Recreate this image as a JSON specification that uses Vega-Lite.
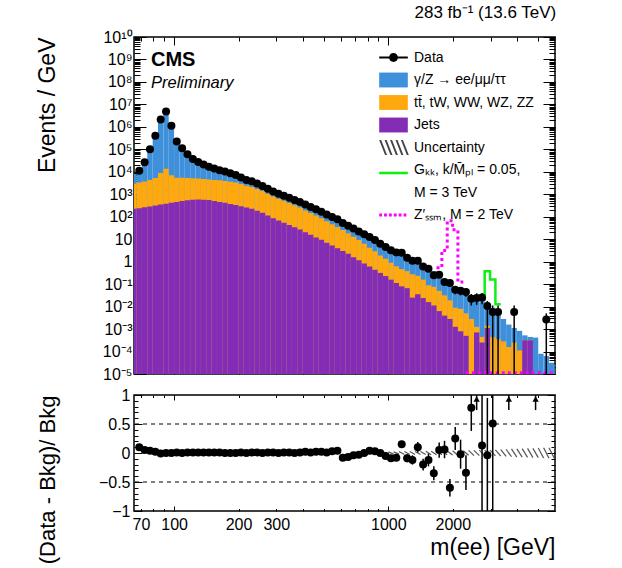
{
"$schema": "https://vega.github.io/schema/vega-lite/v6.json",
"padding": {"left": 35, "top": 4, "right": 5, "bottom": 5},
"background": "white",
"bounds": "flush",
"title": {"text": "283 fb⁻¹ (13.6 TeV)", "anchor": "end", "fontSize": 17, "fontWeight": "normal", "font": "Liberation Sans", "offset": 6, "color": "black"},
"datasets": {
"bins": [
{"lo":63.10,"hi":66.83,"c":64.94,"T":7943,"O":2951,"P":223.9},
{"lo":66.83,"hi":70.79,"c":68.78,"T":1.047e4,"O":3311,"P":239.9,"D":1.122e4,"r":0.10},
{"lo":70.79,"hi":74.99,"c":72.86,"T":2.512e4,"O":3715,"P":263.0,"D":2.630e4,"r":0.05},
{"lo":74.99,"hi":79.43,"c":77.18,"T":9.772e4,"O":4266,"P":288.4,"D":1.0e5,"r":0.04},
{"lo":79.43,"hi":84.14,"c":81.75,"T":3.981e5,"O":5248,"P":316.2,"D":4.07e5,"r":0.02},
{"lo":84.14,"hi":89.13,"c":86.60,"T":2.138e6,"O":8913,"P":346.7,"D":2.12e6,"r":-0.01},
{"lo":89.13,"hi":94.41,"c":91.73,"T":4.786e6,"O":1.380e4,"P":380.2,"D":4.786e6,"r":0.0},
{"lo":94.41,"hi":100.0,"c":97.17,"T":1.122e6,"O":7079,"P":416.9,"D":1.122e6,"r":0.0},
{"lo":100.0,"hi":105.9,"c":102.9,"T":2.239e5,"O":5495,"P":457.1,"D":2.26e5,"r":0.01},
{"lo":105.9,"hi":112.2,"c":109.0,"T":1.122e5,"O":5370,"P":501.2,"D":1.122e5,"r":0.0},
{"lo":112.2,"hi":118.9,"c":115.5,"T":6.026e4,"O":5248,"P":537.0,"D":6.09e4,"r":0.01},
{"lo":118.9,"hi":125.9,"c":122.4,"T":3.715e4,"O":5129,"P":575.4,"D":3.75e4,"r":0.01},
{"lo":125.9,"hi":133.4,"c":129.6,"T":2.692e4,"O":5012,"P":588.8,"D":2.72e4,"r":0.01},
{"lo":133.4,"hi":141.3,"c":137.3,"T":2.089e4,"O":4786,"P":575.4,"D":2.11e4,"r":0.01},
{"lo":141.3,"hi":149.6,"c":145.4,"T":1.660e4,"O":4571,"P":549.5,"D":1.68e4,"r":0.01},
{"lo":149.6,"hi":158.5,"c":154.0,"T":1.380e4,"O":4365,"P":501.2,"D":1.39e4,"r":0.01},
{"lo":158.5,"hi":167.9,"c":163.1,"T":1.148e4,"O":4169,"P":457.1,"D":1.16e4,"r":0.01},
{"lo":167.9,"hi":177.8,"c":172.8,"T":1.023e4,"O":3890,"P":416.9,"D":1.023e4,"r":0.0},
{"lo":177.8,"hi":188.4,"c":183.0,"T":8511,"O":3631,"P":371.5,"D":8511,"r":0.0},
{"lo":188.4,"hi":199.5,"c":193.9,"T":7244,"O":3311,"P":331.1,"D":7244,"r":0.0},
{"lo":199.5,"hi":211.3,"c":205.3,"T":5495,"O":2884,"P":295.1,"D":5550,"r":0.01},
{"lo":211.3,"hi":223.9,"c":217.5,"T":4365,"O":2399,"P":257.0,"D":4365,"r":0.0},
{"lo":223.9,"hi":237.1,"c":230.4,"T":3715,"O":2089,"P":223.9,"D":3750,"r":0.01},
{"lo":237.1,"hi":251.2,"c":244.0,"T":2951,"O":1698,"P":186.2,"D":2980,"r":0.01},
{"lo":251.2,"hi":266.1,"c":258.5,"T":2344,"O":1380,"P":151.4,"D":2344,"r":0.0},
{"lo":266.1,"hi":281.8,"c":273.9,"T":1738,"O":1047,"P":114.8,"D":1755,"r":0.01},
{"lo":281.8,"hi":298.5,"c":290.0,"T":1318,"O":794.3,"P":85.11,"D":1330,"r":0.01},
{"lo":298.5,"hi":316.2,"c":307.2,"T":1047,"O":631.0,"P":67.61,"D":1047,"r":0.0},
{"lo":316.2,"hi":335.0,"c":325.4,"T":851.1,"O":512.9,"P":53.70,"D":860,"r":0.01},
{"lo":335.0,"hi":354.8,"c":344.8,"T":691.8,"O":407.4,"P":42.66,"D":699,"r":0.01},
{"lo":354.8,"hi":375.8,"c":365.2,"T":549.5,"O":323.6,"P":33.88,"D":549.5,"r":0.0},
{"lo":375.8,"hi":398.1,"c":386.8,"T":446.7,"O":257.0,"P":26.92,"D":451,"r":0.01},
{"lo":398.1,"hi":421.7,"c":409.7,"T":338.8,"O":190.5,"P":20.42,"D":346,"r":0.02},
{"lo":421.7,"hi":446.7,"c":434.0,"T":269.2,"O":147.9,"P":15.85,"D":272,"r":0.01},
{"lo":446.7,"hi":473.2,"c":459.7,"T":208.9,"O":112.2,"P":12.02,"D":213,"r":0.02},
{"lo":473.2,"hi":501.2,"c":487.0,"T":162.2,"O":85.11,"P":9.333,"D":165,"r":0.02},
{"lo":501.2,"hi":530.9,"c":515.8,"T":125.9,"O":63.10,"P":6.918,"D":127,"r":0.01},
{"lo":530.9,"hi":562.3,"c":546.4,"T":95.50,"O":46.77,"P":5.248,"D":98.4,"r":0.03},
{"lo":562.3,"hi":595.7,"c":578.7,"T":74.13,"O":34.67,"P":3.981,"D":77.1,"r":0.04},
{"lo":595.7,"hi":631.0,"c":613.1,"T":57.54,"O":25.70,"P":3.020,"D":52.9,"r":-0.08,"rlo":-0.11,"rhi":-0.05},
{"lo":631.0,"hi":668.3,"c":649.4,"T":42.66,"O":18.62,"P":2.239,"D":39.7,"r":-0.07,"rlo":-0.10,"rhi":-0.04},
{"lo":668.3,"hi":707.9,"c":687.8,"T":30.90,"O":12.88,"P":1.585,"D":29.7,"r":-0.04,"rlo":-0.07,"rhi":-0.01},
{"lo":707.9,"hi":749.9,"c":728.6,"T":22.91,"O":9.120,"P":1.148,"D":22.2,"r":-0.03,"rlo":-0.06,"rhi":0.0},
{"lo":749.9,"hi":794.3,"c":771.8,"T":16.60,"O":6.310,"P":0.8318,"D":16.6,"r":0.0,"rlo":-0.03,"rhi":0.03},
{"lo":794.3,"hi":841.4,"c":817.5,"T":12.02,"O":4.169,"P":0.6026,"D":12.5,"r":0.04,"rlo":0.005,"rhi":0.075},
{"lo":841.4,"hi":891.3,"c":866.0,"T":8.913,"O":2.884,"P":0.4365,"D":9.18,"r":0.03,"rlo":-0.01,"rhi":0.07,"u":0.02,"nu":-0.02},
{"lo":891.3,"hi":944.1,"c":917.3,"T":6.310,"O":1.905,"P":0.3162,"D":6.31,"r":0.0,"rlo":-0.04,"rhi":0.04,"u":0.02,"nu":-0.02},
{"lo":944.1,"hi":1000,"c":971.7,"T":4.677,"O":1.349,"P":0.2291,"D":4.44,"r":-0.05,"rlo":-0.095,"rhi":-0.005,"u":0.02,"nu":-0.02},
{"lo":1000,"hi":1059,"c":1029,"T":3.548,"O":0.8913,"P":0.1585,"D":3.23,"r":-0.09,"rlo":-0.14,"rhi":-0.04,"u":0.02,"nu":-0.02},
{"lo":1059,"hi":1122,"c":1090,"T":2.818,"O":0.6310,"P":0.1122,"D":2.59,"r":-0.08,"rlo":-0.13,"rhi":-0.03,"u":0.02,"nu":-0.02},
{"lo":1122,"hi":1189,"c":1155,"T":2.188,"O":0.4677,"P":0.07943,"D":2.52,"r":0.15,"rlo":0.09,"rhi":0.21,"u":0.025,"nu":-0.025},
{"lo":1189,"hi":1259,"c":1224,"T":1.660,"O":0.3802,"P":0.06607,"D":1.51,"r":-0.09,"rlo":-0.16,"rhi":-0.02,"u":0.025,"nu":-0.025},
{"lo":1259,"hi":1334,"c":1296,"T":1.259,"O":0.2754,"P":0.02512,"D":1.11,"r":-0.12,"rlo":-0.20,"rhi":-0.04,"u":0.025,"nu":-0.025},
{"lo":1334,"hi":1413,"c":1373,"T":1.0,"O":0.2344,"P":0.03548,"D":1.10,"r":0.10,"rlo":0.01,"rhi":0.19,"u":0.025,"nu":-0.025},
{"lo":1413,"hi":1496,"c":1454,"T":0.7586,"O":0.1585,"P":0.02399,"D":0.607,"dlo":0.5012,"dhi":0.7079,"r":-0.20,"rlo":-0.30,"rhi":-0.10,"u":0.025,"nu":-0.025},
{"lo":1496,"hi":1585,"c":1540,"T":0.5495,"O":0.08913,"P":0.01585,"D":0.484,"dlo":0.3890,"dhi":0.5754,"r":-0.12,"rlo":-0.23,"rhi":-0.01,"u":0.03,"nu":-0.03},
{"lo":1585,"hi":1679,"c":1631,"T":0.3802,"O":0.07586,"P":0.01122,"D":0.247,"dlo":0.1905,"dhi":0.3020,"r":-0.35,"rlo":-0.47,"rhi":-0.23,"u":0.03,"nu":-0.03},
{"lo":1679,"hi":1778,"c":1728,"T":0.2512,"O":0.05012,"P":0.006310,"D":0.2630,"dlo":0.1995,"dhi":0.3311,"r":0.05,"rlo":-0.08,"rhi":0.18,"u":0.03,"nu":-0.03},
{"lo":1778,"hi":1884,"c":1830,"T":0.1585,"O":0.03162,"P":0.003981,"D":0.1259,"dlo":0.08913,"dhi":0.1660,"r":0.06,"rlo":-0.09,"rhi":0.21,"u":0.03,"nu":-0.03},
{"lo":1884,"hi":1995,"c":1939,"T":0.1,"O":0.01905,"P":0.002818,"D":0.1122,"dlo":0.07943,"dhi":0.1514,"r":-0.60,"rlo":-0.75,"rhi":-0.45,"u":0.035,"nu":-0.035},
{"lo":1995,"hi":2113,"c":2053,"T":0.07079,"O":0.008913,"P":0.001259,"D":0.05623,"dlo":0.03548,"dhi":0.07943,"r":0.25,"rlo":0.05,"rhi":0.45,"u":0.04,"nu":-0.04},
{"lo":2113,"hi":2239,"c":2175,"T":0.05370,"O":0.007943,"P":0.0007943,"D":0.05012,"dlo":0.03162,"dhi":0.07244,"r":-0.02,"rlo":-0.27,"rhi":0.23,"u":0.04,"nu":-0.04},
{"lo":2239,"hi":2371,"c":2304,"T":0.04365,"O":0.005012,"P":0.0005012,"D":0.04467,"dlo":0.02754,"dhi":0.06607,"r":-0.34,"rlo":-0.64,"rhi":-0.04,"u":0.04,"nu":-0.04},
{"lo":2371,"hi":2512,"c":2440,"T":0.03311,"O":0.002818,"D":0.02239,"dlo":0.01122,"dhi":0.03631,"r":0.78,"rlo":0.38,"rhi":1.18,"u":0.045,"nu":-0.045},
{"lo":2512,"hi":2661,"c":2585,"T":0.02512,"O":0.001259,"P":0.0007079,"D":0.02399,"dlo":0.01202,"dhi":0.03890,"arr":1,"u":0.045,"nu":-0.045},
{"lo":2661,"hi":2818,"c":2739,"T":0.01905,"O":0.0004467,"P":0.0002512,"D":0.02512,"dlo":0.01259,"dhi":0.03981,"r":0.13,"rlo":-1.2,"rhi":1.2,"u":0.05,"nu":-0.05},
{"lo":2818,"hi":2985,"c":2900,"T":0.01514,"O":0.001413,"P":0.001122,"D":0.01072,"dlo":1e-6,"dhi":0.01778,"r":-0.04,"rlo":-1.2,"rhi":0.95,"u":0.05,"nu":-0.05},
{"lo":2985,"hi":3162,"c":3072,"T":0.008913,"O":0.0004467,"D":0.005754,"dlo":1e-6,"dhi":0.01122,"r":0.51,"rlo":-1.2,"rhi":1.2,"u":0.05,"nu":-0.05},
{"lo":3162,"hi":3350,"c":3254,"T":0.005754,"O":0.0003548,"D":0.005754,"dlo":1e-6,"dhi":0.01122,"u":0.055,"nu":-0.055},
{"lo":3350,"hi":3548,"c":3448,"T":0.002818,"O":0.0002818,"u":0.06,"nu":-0.06},
{"lo":3548,"hi":3758,"c":3652,"T":0.001585,"O":0.0001585,"arr":1,"u":0.065,"nu":-0.065},
{"lo":3758,"hi":3981,"c":3868,"T":0.001122,"O":0.0002512,"D":0.005754,"dlo":1e-6,"dhi":0.01122,"u":0.07,"nu":-0.07},
{"lo":3981,"hi":4217,"c":4097,"T":0.0008318,"O":0.0001122,"u":0.07,"nu":-0.07},
{"lo":4217,"hi":4467,"c":4340,"T":0.0005248,"O":0.0003162,"P":0.0003162,"u":0.075,"nu":-0.075},
{"lo":4467,"hi":4732,"c":4597,"T":0.0004467,"O":0.0003162,"P":0.0003162,"u":0.08,"nu":-0.08},
{"lo":4732,"hi":5012,"c":4870,"T":0.0004169,"arr":1,"u":0.08,"nu":-0.08},
{"lo":5012,"hi":5309,"c":5158,"T":0.00007943,"u":0.085,"nu":-0.085},
{"lo":5309,"hi":5623,"c":5464,"T":0.0000631,"D":0.002692,"dlo":1e-6,"dhi":0.005012,"u":0.09,"nu":-0.09},
{"lo":5623,"hi":5957,"c":5787,"T":0.00003162,"u":0.09,"nu":-0.09},
{"lo":5957,"hi":6310,"c":6131,"T":0.00002512,"u":0.1,"nu":-0.1}
],
"zp": [
{"m":1679,"v":0.537,"s":"a"},{"m":1778,"v":3.162,"s":"a"},{"m":1884,"v":66.07,"s":"a"},{"m":1995,"v":26.30,"s":"a"},{"m":2113,"v":0.1259,"s":"a"},{"m":2239,"v":0.1259,"s":"a"},
{"m":2300,"v":1.15e-5,"s":"b"},{"m":6300,"v":1.15e-5,"s":"b"}
],
"gkk": [
{"m":2661,"v":0.01995},{"m":2818,"v":0.3715},{"m":2985,"v":0.1622},{"m":3162,"v":0.01259},{"m":3350,"v":0.01259}
],
"leg": [
{"k":"data","lx":1000,"ly":1e-9},{"k":"dy","lx":1000,"ly":1e-9},{"k":"tt","lx":1000,"ly":1e-9},{"k":"jets","lx":1000,"ly":1e-9},{"k":"unc","lx":1000,"ly":1e-9},{"k":"gkk","lx":1000,"ly":1e-9},{"k":"gkk2","lx":1000,"ly":1e-9},{"k":"zp","lx":1000,"ly":1e-9}
],
"hl": [{"v":0.5},{"v":-0.5}]
},
"spacing": 21,
"vconcat": [
{
"width": 421, "height": 337,
"title": {"text": "CMS", "subtitle": "Preliminary", "anchor": "start", "frame": "group", "offset": -62, "dx": 17, "font": "Liberation Sans", "fontSize": 20, "fontWeight": "bold", "color": "black", "subtitleFont": "Liberation Sans", "subtitleFontSize": 16.5, "subtitleFontStyle": "italic", "subtitleColor": "black", "subtitlePadding": 5},
"resolve": {"axis": {"x": "independent", "y": "independent"}},
"layer": [
{"data": {"name": "bins"}, "mark": {"type": "rect", "color": "#3f90da", "clip": true},
 "encoding": {
  "x": {"field": "lo", "type": "quantitative", "scale": {"type": "log", "domain": [65, 6000], "nice": false},
        "axis": {"orient": "bottom", "values": [70,80,90,100,200,300,400,500,600,700,800,900,1000,2000,3000,4000,5000], "tickSize": -4, "labels": false, "title": null}},
  "x2": {"field": "hi"},
  "y": {"field": "T", "type": "quantitative", "scale": {"type": "log", "domain": [1e-5, 1e10], "nice": false},
        "axis": {"orient": "left", "values": [1e-5,2e-5,3e-5,4e-5,5e-5,6e-5,7e-5,8e-5,9e-5,1e-4,2e-4,3e-4,4e-4,5e-4,6e-4,7e-4,8e-4,9e-4,0.001,0.002,0.003,0.004,0.005,0.006,0.007,0.008,0.009,0.01,0.02,0.03,0.04,0.05,0.06,0.07,0.08,0.09,0.1,0.2,0.3,0.4,0.5,0.6,0.7,0.8,0.9,1,2,3,4,5,6,7,8,9,10,20,30,40,50,60,70,80,90,100,200,300,400,500,600,700,800,900,1000,2000,3000,4000,5000,6000,7000,8000,9000,1e4,2e4,3e4,4e4,5e4,6e4,7e4,8e4,9e4,1e5,2e5,3e5,4e5,5e5,6e5,7e5,8e5,9e5,1e6,2e6,3e6,4e6,5e6,6e6,7e6,8e6,9e6,1e7,2e7,3e7,4e7,5e7,6e7,7e7,8e7,9e7,1e8,2e8,3e8,4e8,5e8,6e8,7e8,8e8,9e8,1e9,2e9,3e9,4e9,5e9,6e9,7e9,8e9,9e9,1e10],
        "tickSize": -6, "labelPadding": 8,
        "labelExpr": "abs(log(datum.value)/LN10 - round(log(datum.value)/LN10)) < 0.01 ? ['10⁻⁵','10⁻⁴','10⁻³','10⁻²','10⁻¹','1','10','10²','10³','10⁴','10⁵','10⁶','10⁷','10⁸','10⁹','10¹⁰'][round(log(datum.value)/LN10)+5] : ''",
        "title": "Events / GeV", "titleFontSize": 23, "titleAnchor": "end", "titleX": -80, "titleBaseline": "alphabetic"}},
  "y2": {"datum": 1e-6}}},
{"data": {"name": "bins"}, "mark": {"type": "rect", "color": "#ffa90e", "clip": true},
 "encoding": {
  "x": {"field": "lo", "type": "quantitative", "scale": {"type": "log", "domain": [65, 6000], "nice": false},
        "axis": {"orient": "bottom", "values": [100, 1000], "tickSize": -8, "labels": false, "title": null}},
  "x2": {"field": "hi"},
  "y": {"field": "O", "type": "quantitative", "scale": {"type": "log", "domain": [1e-5, 1e10], "nice": false},
        "axis": {"orient": "left", "values": [1e-5,1e-4,0.001,0.01,0.1,1,10,100,1000,1e4,1e5,1e6,1e7,1e8,1e9,1e10], "tickSize": -12, "labels": false, "title": null}},
  "y2": {"datum": 1e-6}}},
{"data": {"name": "bins"}, "mark": {"type": "rect", "color": "#832db6", "clip": true},
 "encoding": {
  "x": {"field": "lo", "type": "quantitative", "scale": {"type": "log", "domain": [65, 6000], "nice": false},
        "axis": {"orient": "top", "values": [70,80,90,100,200,300,400,500,600,700,800,900,1000,2000,3000,4000,5000], "tickSize": -4, "labels": false, "title": null}},
  "x2": {"field": "hi"},
  "y": {"field": "P", "type": "quantitative", "scale": {"type": "log", "domain": [1e-5, 1e10], "nice": false},
        "axis": {"orient": "right", "values": [1e-5,2e-5,3e-5,4e-5,5e-5,6e-5,7e-5,8e-5,9e-5,1e-4,2e-4,3e-4,4e-4,5e-4,6e-4,7e-4,8e-4,9e-4,0.001,0.002,0.003,0.004,0.005,0.006,0.007,0.008,0.009,0.01,0.02,0.03,0.04,0.05,0.06,0.07,0.08,0.09,0.1,0.2,0.3,0.4,0.5,0.6,0.7,0.8,0.9,1,2,3,4,5,6,7,8,9,10,20,30,40,50,60,70,80,90,100,200,300,400,500,600,700,800,900,1000,2000,3000,4000,5000,6000,7000,8000,9000,1e4,2e4,3e4,4e4,5e4,6e4,7e4,8e4,9e4,1e5,2e5,3e5,4e5,5e5,6e5,7e5,8e5,9e5,1e6,2e6,3e6,4e6,5e6,6e6,7e6,8e6,9e6,1e7,2e7,3e7,4e7,5e7,6e7,7e7,8e7,9e7,1e8,2e8,3e8,4e8,5e8,6e8,7e8,8e8,9e8,1e9,2e9,3e9,4e9,5e9,6e9,7e9,8e9,9e9,1e10], "tickSize": -6, "labels": false, "title": null}},
  "y2": {"datum": 1e-6}}},
{"data": {"name": "zp"}, "mark": {"type": "line", "color": "#ff00ff", "strokeWidth": 3, "strokeDash": [3, 3], "interpolate": "step-after", "clip": true},
 "encoding": {
  "x": {"field": "m", "type": "quantitative", "scale": {"type": "log", "domain": [65, 6000], "nice": false},
        "axis": {"orient": "top", "values": [100, 1000], "tickSize": -8, "labels": false, "title": null}},
  "y": {"field": "v", "type": "quantitative", "scale": {"type": "log", "domain": [1e-5, 1e10], "nice": false},
        "axis": {"orient": "right", "values": [1e-5,1e-4,0.001,0.01,0.1,1,10,100,1000,1e4,1e5,1e6,1e7,1e8,1e9,1e10], "tickSize": -12, "labels": false, "title": null}},
  "detail": {"field": "s"}}},
{"data": {"name": "gkk"}, "mark": {"type": "line", "color": "#11ee11", "strokeWidth": 2.5, "interpolate": "step-after", "clip": true},
 "encoding": {
  "x": {"field": "m", "type": "quantitative", "scale": {"type": "log", "domain": [65, 6000], "nice": false}, "axis": null},
  "y": {"field": "v", "type": "quantitative", "scale": {"type": "log", "domain": [1e-5, 1e10], "nice": false}, "axis": null}}},
{"data": {"name": "bins"}, "mark": {"type": "rule", "color": "black", "strokeWidth": 1.5, "clip": true},
 "encoding": {
  "x": {"field": "c", "type": "quantitative", "scale": {"type": "log", "domain": [65, 6000], "nice": false}, "axis": null},
  "y": {"field": "dlo", "type": "quantitative", "scale": {"type": "log", "domain": [1e-5, 1e10], "nice": false}, "axis": null},
  "y2": {"field": "dhi"}}},
{"data": {"name": "bins"}, "mark": {"type": "point", "filled": true, "color": "black", "size": 64, "opacity": 1, "clip": true},
 "encoding": {
  "x": {"field": "c", "type": "quantitative", "scale": {"type": "log", "domain": [65, 6000], "nice": false}, "axis": null},
  "y": {"field": "D", "type": "quantitative", "scale": {"type": "log", "domain": [1e-5, 1e10], "nice": false}, "axis": null}}},
{"data": {"name": "leg"}, "mark": {"type": "point", "filled": true, "size": 820, "opacity": 1, "clip": true},
 "encoding": {
  "x": {"field": "lx", "type": "quantitative", "scale": {"type": "log", "domain": [65, 6000], "nice": false}, "axis": null},
  "y": {"field": "ly", "type": "quantitative", "scale": {"type": "log", "domain": [1e-5, 1e10], "nice": false}, "axis": null},
  "color": {"field": "k", "type": "nominal",
    "scale": {"domain": ["data","dy","tt","jets","unc","gkk","gkk2","zp"], "range": ["#000000","#3f90da","#ffa90e","#832db6","#444444","#11ee11","#ffffff","#ff00ff"]},
    "legend": {"orient": "none", "legendX": 245, "legendY": 6, "title": null, "padding": 0, "labelFont": "Liberation Sans", "labelFontSize": 14, "labelColor": "black", "labelLimit": 300, "labelOffset": 6, "rowPadding": 0.5, "symbolStrokeWidth": 0, "symbolSize": 820,
      "labelExpr": "datum.value == 'data' ? 'Data' : datum.value == 'dy' ? 'γ/Z → ee/μμ/ττ' : datum.value == 'tt' ? 'tt̄, tW, WW, WZ, ZZ' : datum.value == 'jets' ? 'Jets' : datum.value == 'unc' ? 'Uncertainty' : datum.value == 'gkk' ? 'Gₖₖ, k/M̄ₚₗ = 0.05,' : datum.value == 'gkk2' ? 'M = 3 TeV' : 'Z′ₛₛₘ, M = 2 TeV'"}},
  "shape": {"field": "k", "type": "nominal",
    "scale": {"domain": ["data","dy","tt","jets","unc","gkk","gkk2","zp"], "range": [
      "M-1,-0.07H1V0.07H-1Z M-0.31,0A0.31,0.31 0 1,1 0.31,0A0.31,0.31 0 1,1 -0.31,0Z",
      "M-1,-0.52H1V0.52H-1Z",
      "M-1,-0.52H1V0.52H-1Z",
      "M-1,-0.52H1V0.52H-1Z",
      "M-1,-0.52H-0.86L-0.45,0.52H-0.59Z M-0.62,-0.52H-0.48L-0.07,0.52H-0.21Z M-0.24,-0.52H-0.1L0.31,0.52H0.17Z M0.14,-0.52H0.28L0.69,0.52H0.55Z M0.52,-0.52H0.66L1.07,0.52H0.93Z",
      "M-1,0.12H1V0.3H-1Z",
      "M0,0H0.01V0.01H0Z",
      "M-1,-0.1H-0.8V0.1H-1Z M-0.66,-0.1H-0.46V0.1H-0.66Z M-0.32,-0.1H-0.12V0.1H-0.32Z M0.02,-0.1H0.22V0.1H0.02Z M0.36,-0.1H0.56V0.1H0.36Z M0.7,-0.1H0.9V0.1H0.7Z"]}}}}
]
},
{
"width": 421, "height": 116,
"resolve": {"axis": {"x": "independent", "y": "independent"}},
"layer": [
{"data": {"name": "bins"}, "mark": {"type": "rule", "color": "#555555", "strokeWidth": 1.2, "clip": true},
 "encoding": {
  "x": {"field": "lo", "type": "quantitative", "scale": {"type": "log", "domain": [65, 6000], "nice": false},
        "axis": {"orient": "bottom", "values": [70,80,90,100,200,300,400,500,600,700,800,900,1000,2000,3000,4000,5000], "tickSize": -2.5, "labelPadding": 8,
                 "labelExpr": "indexof([70,100,200,300,1000,2000], datum.value) >= 0 ? '' + datum.value : ''",
                 "title": "m(ee) [GeV]", "titleFontSize": 23, "titleAnchor": "end", "titlePadding": 4}},
  "x2": {"field": "hi"},
  "y": {"field": "u", "type": "quantitative", "scale": {"domain": [-1, 1], "nice": false, "zero": false},
        "axis": {"orient": "left", "values": [-1,-0.9,-0.8,-0.7,-0.6,-0.5,-0.4,-0.3,-0.2,-0.1,0,0.1,0.2,0.3,0.4,0.5,0.6,0.7,0.8,0.9,1], "tickSize": -4, "labelPadding": 8,
                 "labelExpr": "datum.value == 1 ? '1' : datum.value == 0.5 ? '0.5' : datum.value == 0 ? '0' : datum.value == -0.5 ? '−0.5' : datum.value == -1 ? '−1' : ''",
                 "title": "(Data - Bkg)/ Bkg", "titleFontSize": 22, "titleAnchor": "end", "titleX": -80, "titleBaseline": "alphabetic"}},
  "y2": {"field": "nu"}}},
{"data": {"name": "hl"}, "mark": {"type": "rule", "color": "black", "strokeWidth": 1, "strokeDash": [4, 4]},
 "encoding": {
  "y": {"field": "v", "type": "quantitative", "scale": {"domain": [-1, 1], "nice": false, "zero": false},
        "axis": {"orient": "left", "values": [-1,-0.5,0,0.5,1], "tickSize": -8, "labels": false, "title": null}}}},
{"mark": {"type": "rule", "color": "#888888", "strokeWidth": 1},
 "encoding": {"y": {"datum": 0, "type": "quantitative", "scale": {"domain": [-1, 1], "nice": false, "zero": false}, "axis": null}}},
{"data": {"name": "bins"}, "mark": {"type": "rule", "color": "black", "strokeWidth": 1.5, "clip": true},
 "encoding": {
  "x": {"field": "c", "type": "quantitative", "scale": {"type": "log", "domain": [65, 6000], "nice": false},
        "axis": {"orient": "bottom", "values": [100, 1000], "tickSize": -5, "labels": false, "title": null}},
  "y": {"field": "rlo", "type": "quantitative", "scale": {"domain": [-1, 1], "nice": false, "zero": false},
        "axis": {"orient": "right", "values": [-1,-0.5,0,0.5,1], "tickSize": -8, "labels": false, "title": null}},
  "y2": {"field": "rhi"}}},
{"data": {"name": "bins"}, "mark": {"type": "point", "filled": true, "color": "black", "size": 64, "opacity": 1, "clip": true},
 "encoding": {
  "x": {"field": "c", "type": "quantitative", "scale": {"type": "log", "domain": [65, 6000], "nice": false},
        "axis": {"orient": "top", "values": [70,80,90,100,200,300,400,500,600,700,800,900,1000,2000,3000,4000,5000], "tickSize": -2.5, "labels": false, "title": null}},
  "y": {"field": "r", "type": "quantitative", "scale": {"domain": [-1, 1], "nice": false, "zero": false},
        "axis": {"orient": "right", "values": [-1,-0.9,-0.8,-0.7,-0.6,-0.5,-0.4,-0.3,-0.2,-0.1,0,0.1,0.2,0.3,0.4,0.5,0.6,0.7,0.8,0.9,1], "tickSize": -4, "labels": false, "title": null}}}},
{"data": {"name": "bins"}, "transform": [{"filter": "datum.arr == 1"}], "mark": {"type": "rule", "color": "black", "strokeWidth": 1.5, "clip": true},
 "encoding": {
  "x": {"field": "c", "type": "quantitative", "scale": {"type": "log", "domain": [65, 6000], "nice": false},
        "axis": {"orient": "top", "values": [100, 1000], "tickSize": -5, "labels": false, "title": null}},
  "y": {"datum": 0.74, "type": "quantitative", "scale": {"domain": [-1, 1], "nice": false, "zero": false}, "axis": null},
  "y2": {"datum": 1}}},
{"data": {"name": "bins"}, "transform": [{"filter": "datum.arr == 1"}], "mark": {"type": "point", "shape": "triangle-up", "filled": true, "color": "black", "size": 40, "opacity": 1, "clip": true},
 "encoding": {
  "x": {"field": "c", "type": "quantitative", "scale": {"type": "log", "domain": [65, 6000], "nice": false}, "axis": null},
  "y": {"datum": 0.93, "type": "quantitative", "scale": {"domain": [-1, 1], "nice": false, "zero": false}, "axis": null}}}
]
}
],
"config": {
 "font": "Liberation Sans",
 "view": {"stroke": "black", "strokeWidth": 1.5},
 "axis": {"domain": false, "grid": false, "labelFont": "Liberation Sans", "labelFontSize": 16, "labelColor": "black", "tickColor": "black", "tickWidth": 1, "titleFont": "Liberation Sans", "titleFontWeight": "normal", "titleColor": "black", "labelOverlap": false, "labelFlush": false, "labelBound": false}
}
}
